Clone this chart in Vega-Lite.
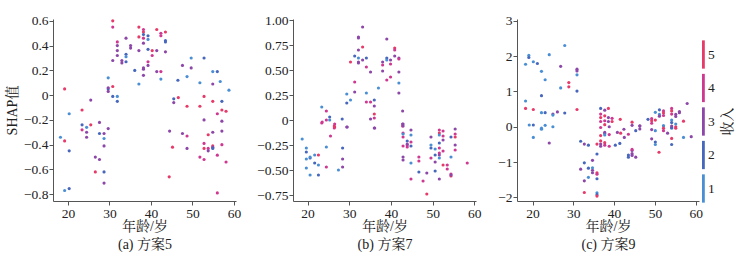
{
 "$schema": "https://vega.github.io/schema/vega-lite/v6.json",
 "background": "white",
 "padding": {"left": 5, "top": 12, "right": 0, "bottom": 0},
 "config": {
  "view": {"stroke": null},
  "font": "Liberation Serif, Noto Serif CJK SC, Noto Sans CJK SC",
  "axis": {"grid": false, "domainColor": "#555", "tickColor": "#555", "tickSize": 4, "labelFontSize": 13.5, "labelColor": "#222", "titleFontSize": 14, "titleFontWeight": "normal", "titleColor": "#222", "labelFont": "Liberation Serif, Noto Serif CJK SC, Noto Sans CJK SC", "titleFont": "Liberation Serif, Noto Serif CJK SC, Noto Sans CJK SC", "labelPadding": 1},
  "legend": {"labelFont": "Liberation Serif", "titleFont": "Liberation Serif, Noto Serif CJK SC, Noto Sans CJK SC"},
  "concat": {"spacing": 15}
 },
 "datasets": {
  "a": [
   {"age":19.2,"shap":0.05,"income":5},{"age":20.3,"shap":-0.15,"income":1},{"age":23.4,"shap":-0.12,"income":5},{"age":25.5,"shap":-0.04,"income":3},
   {"age":18.2,"shap":-0.34,"income":1},{"age":19.2,"shap":-0.37,"income":5},{"age":20.3,"shap":-0.45,"income":2},{"age":19.2,"shap":-0.77,"income":1},{"age":20.3,"shap":-0.755,"income":2},
   {"age":23.4,"shap":-0.24,"income":2},{"age":24.5,"shap":-0.26,"income":1},{"age":23.4,"shap":-0.28,"income":4},{"age":24.5,"shap":-0.30,"income":3},{"age":24.5,"shap":-0.34,"income":3},{"age":25.5,"shap":-0.24,"income":5},{"age":27.6,"shap":-0.22,"income":3},{"age":27.6,"shap":-0.31,"income":2},{"age":28.7,"shap":-0.31,"income":3},{"age":28.7,"shap":-0.35,"income":1},{"age":29.7,"shap":-0.27,"income":3},{"age":28.7,"shap":-0.41,"income":3},{"age":26.6,"shap":-0.50,"income":3},{"age":27.6,"shap":-0.52,"income":3},{"age":26.6,"shap":-0.62,"income":5},{"age":28.7,"shap":-0.62,"income":2},{"age":28.7,"shap":-0.71,"income":3},
   {"age":44.5,"shap":-0.29,"income":3},{"age":47.6,"shap":-0.31,"income":3},{"age":48.7,"shap":-0.33,"income":4},{"age":45.2,"shap":-0.42,"income":5},{"age":48.7,"shap":-0.43,"income":3},{"age":44.4,"shap":-0.66,"income":5},
   {"age":51.8,"shap":-0.50,"income":4},{"age":52.8,"shap":-0.39,"income":4},{"age":52.8,"shap":-0.43,"income":5},{"age":52.8,"shap":-0.52,"income":4},{"age":53.8,"shap":-0.32,"income":5},{"age":53.8,"shap":-0.43,"income":4},{"age":53.8,"shap":-0.45,"income":3},{"age":54.9,"shap":-0.41,"income":5},{"age":54.9,"shap":-0.42,"income":3},{"age":54.9,"shap":-0.43,"income":2},{"age":54.9,"shap":-0.30,"income":3},{"age":56.0,"shap":-0.485,"income":4},{"age":56.0,"shap":-0.79,"income":4},{"age":57.1,"shap":-0.29,"income":3},{"age":57.1,"shap":-0.40,"income":4},{"age":57.1,"shap":-0.21,"income":3},{"age":58.1,"shap":-0.54,"income":4},{"age":52.8,"shap":-0.20,"income":3},
   {"age":30.8,"shap":0.60,"income":5},{"age":30.8,"shap":0.55,"income":4},{"age":31.9,"shap":0.43,"income":4},{"age":31.9,"shap":0.40,"income":3},{"age":31.9,"shap":0.36,"income":3},{"age":31.9,"shap":0.32,"income":3},{"age":30.8,"shap":0.28,"income":3},{"age":33.0,"shap":0.28,"income":3},{"age":33.0,"shap":0.26,"income":3},{"age":34.0,"shap":0.33,"income":2},{"age":34.0,"shap":0.31,"income":1},{"age":34.0,"shap":0.46,"income":3},{"age":35.1,"shap":0.40,"income":3},{"age":35.1,"shap":0.38,"income":3},{"age":34.0,"shap":0.27,"income":2},{"age":29.7,"shap":0.14,"income":1},{"age":29.7,"shap":0.05,"income":2},{"age":29.7,"shap":0.03,"income":3},{"age":29.7,"shap":0.06,"income":3},{"age":30.8,"shap":0.07,"income":5},{"age":30.8,"shap":-0.01,"income":2},{"age":31.9,"shap":-0.01,"income":1},{"age":31.9,"shap":-0.05,"income":2},{"age":36.1,"shap":0.20,"income":2},{"age":37.1,"shap":0.09,"income":1},{"age":37.1,"shap":0.55,"income":5},{"age":37.1,"shap":0.47,"income":5},{"age":37.1,"shap":0.36,"income":3},{"age":38.2,"shap":0.53,"income":4},{"age":38.2,"shap":0.51,"income":5},{"age":38.2,"shap":0.49,"income":2},{"age":38.2,"shap":0.46,"income":4},{"age":38.2,"shap":0.42,"income":3},{"age":38.2,"shap":0.22,"income":3},{"age":38.2,"shap":0.21,"income":3},{"age":38.2,"shap":0.16,"income":3},{"age":39.3,"shap":0.48,"income":2},{"age":39.3,"shap":0.45,"income":1},{"age":39.3,"shap":0.37,"income":2},{"age":39.3,"shap":0.24,"income":3},{"age":39.3,"shap":0.27,"income":4},{"age":40.3,"shap":0.36,"income":5},{"age":40.3,"shap":0.32,"income":4},{"age":41.4,"shap":0.36,"income":3},{"age":41.4,"shap":0.19,"income":3},{"age":41.4,"shap":0.53,"income":5},{"age":42.4,"shap":0.50,"income":4},{"age":42.4,"shap":0.48,"income":4},{"age":42.4,"shap":0.19,"income":4},{"age":42.4,"shap":0.13,"income":1},{"age":43.5,"shap":0.51,"income":5},{"age":43.5,"shap":0.44,"income":2},{"age":43.5,"shap":0.43,"income":2},{"age":43.5,"shap":0.35,"income":3},{"age":45.5,"shap":-0.03,"income":2},{"age":45.5,"shap":-0.06,"income":3},{"age":46.6,"shap":-0.02,"income":5},{"age":46.5,"shap":0.12,"income":2},{"age":47.6,"shap":0.24,"income":3},{"age":48.7,"shap":0.15,"income":1},{"age":48.7,"shap":-0.09,"income":5},{"age":49.7,"shap":0.30,"income":1},{"age":49.7,"shap":0.22,"income":3},{"age":51.8,"shap":0.10,"income":1},{"age":51.8,"shap":-0.09,"income":5},{"age":52.8,"shap":0.30,"income":2},{"age":52.8,"shap":-0.01,"income":5},{"age":54.9,"shap":0.19,"income":1},{"age":56.0,"shap":0.19,"income":2},{"age":54.9,"shap":0.09,"income":3},{"age":54.9,"shap":-0.05,"income":5},{"age":57.1,"shap":-0.05,"income":2},{"age":57.1,"shap":-0.12,"income":5},{"age":58.1,"shap":-0.13,"income":5},{"age":56.0,"shap":-0.15,"income":4},{"age":56.7,"shap":0.11,"income":1},{"age":58.8,"shap":0.04,"income":1}
  ],
  "b": [
   {"age":23.4,"shap":0.13,"income":1},{"age":24.5,"shap":0.09,"income":4},{"age":25.3,"shap":0.03,"income":2},{"age":25.3,"shap":0.0,"income":1},{"age":23.4,"shap":-0.03,"income":4},{"age":24.5,"shap":0.0,"income":4},{"age":26.4,"shap":-0.06,"income":5},{"age":26.4,"shap":-0.08,"income":4},{"age":28.3,"shap":0.01,"income":2},{"age":29.4,"shap":-0.07,"income":3},{"age":29.4,"shap":0.26,"income":1},{"age":29.4,"shap":0.17,"income":2},{"age":30.3,"shap":0.20,"income":1},{"age":30.3,"shap":0.58,"income":5},{"age":31.3,"shap":0.28,"income":3},{"age":31.3,"shap":0.38,"income":4},{"age":31.3,"shap":0.64,"income":2},{"age":32.2,"shap":0.83,"income":3},{"age":32.2,"shap":0.82,"income":3},{"age":32.2,"shap":0.70,"income":3},{"age":32.2,"shap":0.62,"income":1},{"age":32.2,"shap":0.58,"income":3},{"age":32.2,"shap":0.57,"income":3},{"age":33.2,"shap":0.93,"income":3},{"age":33.2,"shap":0.73,"income":5},{"age":33.2,"shap":0.60,"income":3},{"age":34.1,"shap":0.62,"income":2},{"age":34.1,"shap":0.53,"income":4},{"age":34.1,"shap":0.27,"income":1},{"age":34.1,"shap":0.18,"income":4},{"age":35.1,"shap":0.48,"income":3},{"age":35.1,"shap":0.18,"income":4},{"age":35.1,"shap":0.01,"income":3},{"age":36.0,"shap":0.20,"income":2},{"age":36.0,"shap":0.14,"income":3},{"age":36.0,"shap":0.06,"income":5},{"age":36.0,"shap":0.02,"income":4},{"age":36.0,"shap":-0.08,"income":3},{"age":37.0,"shap":0.32,"income":1},{"age":38.0,"shap":0.58,"income":3},{"age":38.0,"shap":0.55,"income":4},{"age":38.0,"shap":0.49,"income":3},{"age":39.0,"shap":0.81,"income":3},{"age":39.0,"shap":0.62,"income":2},{"age":39.0,"shap":0.60,"income":1},{"age":39.0,"shap":0.40,"income":4},{"age":39.9,"shap":0.60,"income":3},{"age":39.9,"shap":0.56,"income":4},{"age":39.9,"shap":0.43,"income":4},{"age":40.9,"shap":0.64,"income":3},{"age":40.9,"shap":0.72,"income":5},{"age":40.9,"shap":0.70,"income":4},{"age":41.9,"shap":0.62,"income":3},{"age":41.9,"shap":0.61,"income":4},{"age":41.9,"shap":0.48,"income":3},{"age":41.9,"shap":0.37,"income":1},{"age":41.9,"shap":0.27,"income":3},{"age":42.8,"shap":0.09,"income":3},{"age":42.8,"shap":-0.04,"income":3},{"age":42.8,"shap":-0.06,"income":5},
   {"age":18.7,"shap":-0.19,"income":1},{"age":19.7,"shap":-0.28,"income":1},{"age":19.7,"shap":-0.32,"income":2},{"age":19.7,"shap":-0.39,"income":1},{"age":19.7,"shap":-0.48,"income":1},{"age":20.6,"shap":-0.38,"income":2},{"age":20.6,"shap":-0.37,"income":1},{"age":20.6,"shap":-0.55,"income":1},{"age":21.7,"shap":-0.35,"income":1},{"age":21.7,"shap":-0.43,"income":2},{"age":22.6,"shap":-0.35,"income":5},{"age":22.6,"shap":-0.45,"income":1},{"age":22.6,"shap":-0.55,"income":2},{"age":23.5,"shap":-0.02,"income":4},{"age":24.5,"shap":-0.47,"income":4},{"age":24.5,"shap":-0.27,"income":1},{"age":25.5,"shap":-0.16,"income":4},{"age":26.5,"shap":-0.04,"income":4},{"age":26.5,"shap":-0.07,"income":5},{"age":27.4,"shap":-0.50,"income":1},{"age":28.4,"shap":-0.28,"income":2},{"age":28.4,"shap":-0.39,"income":3},{"age":28.4,"shap":-0.47,"income":3},{"age":29.5,"shap":-0.07,"income":3},{"age":36.1,"shap":-0.08,"income":3},
   {"age":42.9,"shap":-0.04,"income":3},{"age":42.9,"shap":-0.06,"income":3},{"age":42.9,"shap":-0.13,"income":4},{"age":42.9,"shap":-0.17,"income":4},{"age":42.9,"shap":-0.26,"income":4},{"age":42.9,"shap":-0.37,"income":3},{"age":42.9,"shap":-0.40,"income":3},{"age":42.9,"shap":-0.14,"income":1},{"age":43.9,"shap":-0.21,"income":2},{"age":43.9,"shap":-0.25,"income":4},{"age":43.9,"shap":-0.27,"income":4},{"age":43.9,"shap":-0.24,"income":3},{"age":44.8,"shap":-0.10,"income":3},{"age":44.8,"shap":-0.15,"income":1},{"age":44.8,"shap":-0.22,"income":4},{"age":44.8,"shap":-0.26,"income":2},{"age":44.8,"shap":-0.43,"income":1},{"age":44.8,"shap":-0.59,"income":4},{"age":46.7,"shap":-0.52,"income":2},{"age":46.7,"shap":-0.37,"income":4},{"age":46.7,"shap":-0.41,"income":4},{"age":47.7,"shap":-0.61,"income":4},{"age":48.6,"shap":-0.53,"income":3},{"age":48.6,"shap":-0.74,"income":5},{"age":49.6,"shap":-0.17,"income":3},{"age":49.6,"shap":-0.25,"income":1},{"age":49.6,"shap":-0.28,"income":2},{"age":49.6,"shap":-0.38,"income":4},{"age":50.6,"shap":-0.29,"income":1},{"age":50.6,"shap":-0.35,"income":2},{"age":50.6,"shap":-0.42,"income":3},{"age":50.6,"shap":-0.51,"income":2},{"age":51.6,"shap":-0.10,"income":4},{"age":51.6,"shap":-0.13,"income":5},{"age":51.6,"shap":-0.15,"income":1},{"age":51.6,"shap":-0.23,"income":2},{"age":51.6,"shap":-0.28,"income":4},{"age":51.6,"shap":-0.33,"income":4},{"age":51.6,"shap":-0.35,"income":3},{"age":51.6,"shap":-0.38,"income":1},{"age":51.6,"shap":-0.59,"income":3},{"age":52.5,"shap":-0.11,"income":4},{"age":52.5,"shap":-0.16,"income":4},{"age":52.5,"shap":-0.20,"income":3},{"age":52.5,"shap":-0.31,"income":4},{"age":52.5,"shap":-0.45,"income":5},{"age":53.5,"shap":-0.45,"income":4},{"age":53.5,"shap":-0.49,"income":4},{"age":54.4,"shap":-0.17,"income":2},{"age":54.4,"shap":-0.37,"income":1},{"age":54.4,"shap":-0.54,"income":4},{"age":54.4,"shap":-0.56,"income":5},{"age":54.4,"shap":-0.55,"income":3},{"age":55.4,"shap":-0.09,"income":3},{"age":55.4,"shap":-0.14,"income":4},{"age":55.4,"shap":-0.17,"income":5},{"age":55.4,"shap":-0.25,"income":3},{"age":55.4,"shap":-0.30,"income":4},{"age":58.3,"shap":-0.43,"income":4}
  ],
  "c": [
   {"age":18.3,"shap":1.77,"income":1},{"age":19.1,"shap":2.02,"income":1},{"age":19.1,"shap":1.96,"income":2},{"age":20.2,"shap":1.84,"income":1},{"age":21.2,"shap":1.79,"income":2},{"age":22.2,"shap":1.57,"income":1},{"age":22.2,"shap":0.88,"income":2},{"age":23.1,"shap":1.33,"income":1},{"age":24.1,"shap":2.04,"income":1},{"age":18.3,"shap":0.73,"income":1},{"age":18.3,"shap":0.52,"income":5},{"age":20.2,"shap":0.49,"income":5},{"age":22.2,"shap":0.40,"income":1},{"age":23.1,"shap":0.40,"income":2},{"age":25.0,"shap":0.36,"income":3},{"age":25.0,"shap":0.33,"income":1},{"age":26.1,"shap":0.42,"income":3},{"age":26.9,"shap":1.71,"income":3},{"age":26.9,"shap":1.10,"income":1},{"age":27.9,"shap":2.30,"income":1},{"age":27.9,"shap":0.39,"income":2},{"age":28.9,"shap":1.25,"income":5},{"age":28.9,"shap":1.13,"income":5},{"age":30.9,"shap":1.63,"income":3},{"age":30.9,"shap":1.58,"income":3},{"age":30.9,"shap":1.47,"income":1},{"age":30.9,"shap":1.01,"income":2},{"age":30.9,"shap":0.49,"income":5},{"age":19.2,"shap":0.05,"income":1},{"age":20.2,"shap":0.05,"income":2},{"age":22.2,"shap":-0.04,"income":1},{"age":20.2,"shap":-0.30,"income":1},{"age":22.2,"shap":-0.07,"income":1},{"age":23.1,"shap":0.04,"income":1},{"age":24.1,"shap":-0.46,"income":3},{"age":25.0,"shap":0.0,"income":1},
   {"age":31.8,"shap":-0.41,"income":2},{"age":31.8,"shap":-1.20,"income":3},{"age":32.7,"shap":-1.02,"income":2},{"age":32.7,"shap":-0.49,"income":3},{"age":32.7,"shap":-1.53,"income":3},{"age":32.7,"shap":-1.86,"income":5},{"age":33.7,"shap":-1.43,"income":1},{"age":33.7,"shap":-1.17,"income":2},{"age":33.7,"shap":-0.52,"income":2},{"age":34.7,"shap":-0.95,"income":3},{"age":34.7,"shap":-1.23,"income":3},{"age":34.7,"shap":-1.30,"income":3},{"age":34.7,"shap":-1.16,"income":1},{"age":35.8,"shap":-0.77,"income":2},{"age":35.8,"shap":-1.47,"income":2},{"age":35.8,"shap":-1.30,"income":5},{"age":35.8,"shap":-1.34,"income":4},{"age":35.8,"shap":-1.87,"income":1},{"age":35.8,"shap":-1.92,"income":2},{"age":35.8,"shap":-1.96,"income":5},{"age":35.8,"shap":-0.49,"income":5},{"age":36.7,"shap":-0.49,"income":3},{"age":36.7,"shap":-0.40,"income":5},{"age":36.7,"shap":-0.55,"income":3},{"age":36.7,"shap":-0.25,"income":5},{"age":36.7,"shap":-0.02,"income":4},{"age":37.7,"shap":-0.16,"income":3},{"age":37.7,"shap":-0.19,"income":3},{"age":37.7,"shap":-0.45,"income":5},{"age":37.7,"shap":-0.52,"income":4},{"age":37.7,"shap":-0.23,"income":1},{"age":38.8,"shap":-0.22,"income":4},{"age":38.8,"shap":-0.55,"income":4},{"age":38.8,"shap":0.0,"income":3},{"age":40.8,"shap":-0.16,"income":3},{"age":40.3,"shap":-0.52,"income":2},{"age":41.6,"shap":-0.18,"income":5},{"age":42.5,"shap":-0.30,"income":3},{"age":43.5,"shap":-0.21,"income":4},{"age":43.5,"shap":-0.80,"income":2},{"age":43.5,"shap":-0.86,"income":2},{"age":44.4,"shap":-0.67,"income":3},{"age":44.4,"shap":-0.76,"income":3},{"age":44.4,"shap":-0.81,"income":3},{"age":44.4,"shap":-0.64,"income":4},{"age":45.3,"shap":-0.86,"income":3},{"age":46.3,"shap":0.03,"income":3},{"age":46.3,"shap":-0.06,"income":3},{"age":45.3,"shap":-0.11,"income":2},{"age":41.4,"shap":-0.47,"income":2},
   {"age":36.7,"shap":0.52,"income":2},{"age":37.7,"shap":0.47,"income":3},{"age":38.6,"shap":0.52,"income":5},{"age":36.7,"shap":0.36,"income":4},{"age":36.7,"shap":0.26,"income":5},{"age":36.7,"shap":0.15,"income":4},{"age":37.7,"shap":0.31,"income":5},{"age":37.7,"shap":0.17,"income":4},{"age":37.7,"shap":0.06,"income":5},{"age":38.6,"shap":0.26,"income":3},{"age":38.6,"shap":0.15,"income":3},{"age":39.5,"shap":0.24,"income":4},{"age":39.5,"shap":0.15,"income":5},{"age":41.5,"shap":0.21,"income":5},{"age":44.4,"shap":0.13,"income":5},{"age":44.4,"shap":0.04,"income":3},{"age":46.3,"shap":0.02,"income":3},{"age":42.4,"shap":-0.07,"income":3},{"age":48.3,"shap":0.21,"income":2},{"age":49.2,"shap":0.23,"income":4},{"age":49.2,"shap":0.17,"income":5},{"age":49.2,"shap":0.10,"income":4},{"age":50.1,"shap":0.41,"income":1},{"age":51.1,"shap":0.48,"income":2},{"age":51.1,"shap":0.35,"income":1},{"age":50.1,"shap":0.19,"income":5},{"age":51.1,"shap":0.30,"income":3},{"age":52.1,"shap":0.45,"income":4},{"age":52.1,"shap":0.39,"income":5},{"age":52.1,"shap":0.32,"income":4},{"age":52.1,"shap":0.03,"income":1},{"age":54.1,"shap":0.52,"income":4},{"age":54.1,"shap":0.45,"income":5},{"age":54.1,"shap":0.36,"income":4},{"age":54.1,"shap":0.19,"income":1},{"age":54.1,"shap":0.12,"income":2},{"age":54.1,"shap":-0.04,"income":1},{"age":55.1,"shap":0.35,"income":3},{"age":55.1,"shap":0.29,"income":3},{"age":55.1,"shap":0.0,"income":5},{"age":56.0,"shap":0.40,"income":3},{"age":56.0,"shap":0.43,"income":3},{"age":57.0,"shap":0.16,"income":5},{"age":57.9,"shap":0.66,"income":3},
   {"age":49.2,"shap":-0.08,"income":3},{"age":50.1,"shap":-0.11,"income":1},{"age":50.1,"shap":-0.43,"income":2},{"age":50.1,"shap":-0.50,"income":1},{"age":49.2,"shap":-0.34,"income":3},{"age":51.0,"shap":-0.72,"income":5},{"age":52.1,"shap":0.03,"income":1},{"age":52.1,"shap":-0.04,"income":5},{"age":52.1,"shap":-0.11,"income":4},{"age":53.1,"shap":-0.18,"income":3},{"age":54.1,"shap":-0.02,"income":2},{"age":54.1,"shap":0.02,"income":3},{"age":54.1,"shap":-0.33,"income":5},{"age":54.1,"shap":-0.50,"income":2},{"age":57.0,"shap":-0.30,"income":1},{"age":58.9,"shap":-0.28,"income":3},{"age":55.1,"shap":-0.04,"income":5},{"age":55.1,"shap":0.08,"income":1}
  ]
 },
 "hconcat": [
  {
   "width": 183, "height": 182,
   "data": {"name": "a"},
   "mark": {"type": "circle", "size": 10, "opacity": 1},
   "encoding": {
    "x": {"field": "age", "type": "quantitative", "scale": {"domain": [16.4, 60.5], "nice": false, "zero": false}, "axis": {"values": [20, 30, 40, 50, 60], "title": ["年龄/岁", "(a) 方案5"], "titleLineHeight": 18, "titlePadding": 0}},
    "y": {"field": "shap", "type": "quantitative", "scale": {"domain": [-0.855, 0.615], "nice": false, "zero": false}, "axis": {"values": [-0.8, -0.6, -0.4, -0.2, 0, 0.2, 0.4, 0.6], "labelExpr": "datum.value == 0 ? '0' : format(datum.value, '.1f')", "title": "SHAP值", "titlePadding": 4}},
    "color": {"field": "income", "type": "ordinal", "scale": {"domain": [5, 4, 3, 2, 1], "range": ["#e63a68", "#cf3890", "#8c47a8", "#4767bd", "#4a8fd4"]},
     "legend": {"title": null, "orient": "right", "offset": -76, "padding": 21, "symbolType": "M0.6,-1H0.8V1H0.6Z", "symbolSize": 800, "symbolOpacity": 1, "symbolStrokeWidth": 0, "labelFontSize": 13.5, "labelColor": "#222", "rowPadding": 4.5, "labelOffset": 0}}
   }
  },
  {
   "width": 183, "height": 182,
   "data": {"name": "b"},
   "mark": {"type": "circle", "size": 10, "opacity": 1},
   "encoding": {
    "x": {"field": "age", "type": "quantitative", "scale": {"domain": [16.5, 60.4], "nice": false, "zero": false}, "axis": {"values": [20, 30, 40, 50, 60], "title": ["年龄/岁", "(b) 方案7"], "titleLineHeight": 18, "titlePadding": 0}},
    "y": {"field": "shap", "type": "quantitative", "scale": {"domain": [-0.81, 1.01], "nice": false, "zero": false}, "axis": {"values": [-0.75, -0.5, -0.25, 0, 0.25, 0.5, 0.75, 1], "labelExpr": "datum.value == 0 ? '0' : format(datum.value, '.2f')", "title": null}},
    "color": {"field": "income", "type": "ordinal"}
   }
  },
  {
   "width": 182, "height": 182,
   "data": {"name": "c"},
   "resolve": {"axis": {"y": "independent"}},
   "layer": [
    {
     "mark": {"type": "circle", "size": 10, "opacity": 1},
     "encoding": {
      "x": {"field": "age", "type": "quantitative", "scale": {"domain": [16.2, 60.8], "nice": false, "zero": false}, "axis": {"values": [20, 30, 40, 50, 60], "title": ["年龄/岁", "(c) 方案9"], "titleLineHeight": 18, "titlePadding": 0}},
      "y": {"field": "shap", "type": "quantitative", "scale": {"domain": [-2.1, 3.05], "nice": false, "zero": false}, "axis": {"values": [-2, -1, 0, 1, 2, 3], "format": "d", "title": null}},
      "color": {"field": "income", "type": "ordinal"}
     }
    },
    {
     "mark": {"type": "circle", "size": 10, "opacity": 0},
     "encoding": {
      "x": {"field": "age", "type": "quantitative"},
      "y": {"field": "shap", "type": "quantitative", "axis": {"orient": "right", "labels": false, "ticks": false, "domain": false, "title": "收入", "titleAngle": 270, "titleX": 28, "titleY": 102, "titleAlign": "center", "titleBaseline": "middle", "titleFontSize": 14}}
     }
    }
   ]
  }
 ]
}
